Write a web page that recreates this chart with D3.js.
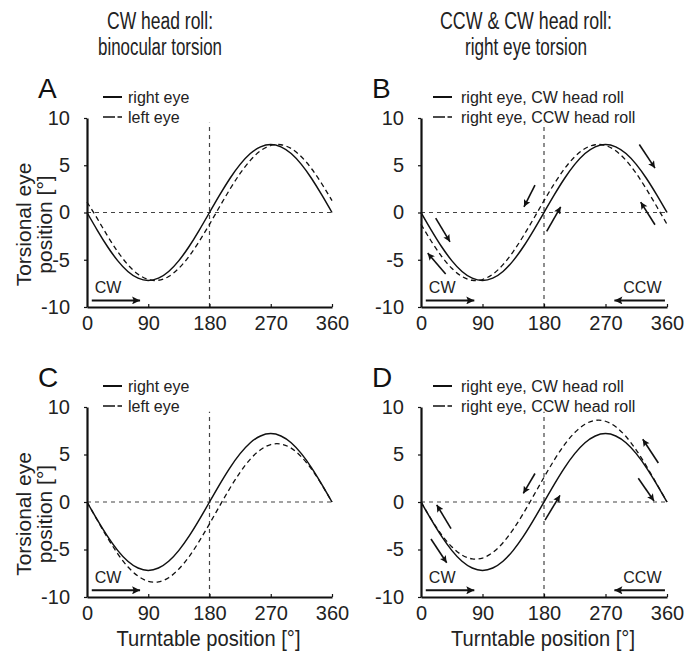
<!DOCTYPE html>
<html>
<head>
<meta charset="utf-8">
<script src="https://cdn.jsdelivr.net/npm/d3@7"></script>
<style>
  html, body { margin: 0; padding: 0; background: #fff; }
  svg { display: block; font-family: "Liberation Sans", Arial, sans-serif; }
</style>
</head>
<body>
<svg id="chart" width="695" height="658"></svg>
<script>
// ---------- data ----------
const turntable = [0,15,30,45,60,75,90,105,120,135,150,165,180,195,210,225,240,255,270,285,300,315,330,345,360];
const xTicks = [0, 90, 180, 270, 360];
const yTicks = [-10, -5, 0, 5, 10];

// Panel A: CW head roll, binocular
const aRightEye = [0,-1.86,-3.6,-5.09,-6.24,-6.95,-7.2,-6.95,-6.24,-5.09,-3.6,-1.86,0,1.86,3.6,5.09,6.24,6.95,7.2,6.95,6.24,5.09,3.6,1.86,0];
const aLeftEye  = [1.1,-0.63,-2.46,-4.13,-5.52,-6.53,-7.09,-7.17,-6.77,-5.9,-4.63,-3.04,-1.25,0.63,2.46,4.13,5.52,6.53,7.09,7.17,6.77,5.9,4.63,3.04,1.25];
// Panel B: right eye, CW vs CCW head roll
const bRightCW  = [0,-1.86,-3.6,-5.09,-6.24,-6.95,-7.2,-6.95,-6.24,-5.09,-3.6,-1.86,0,1.86,3.6,5.09,6.24,6.95,7.2,6.95,6.24,5.09,3.6,1.86,0];
const bRightCCW = [-1.25,-3.04,-4.63,-5.9,-6.77,-7.17,-7.09,-6.53,-5.52,-4.13,-2.46,-0.63,1.25,3.04,4.63,5.9,6.77,7.17,7.09,6.53,5.52,4.13,2.46,0.63,-1.25];
// Panel C: binocular (second condition)
const cRightEye = [0,-1.86,-3.6,-5.09,-6.24,-6.95,-7.2,-6.95,-6.24,-5.09,-3.6,-1.86,0,1.86,3.6,5.09,6.24,6.95,7.2,6.95,6.24,5.09,3.6,1.86,0];
const cLeftEye  = [0,-1.9,-3.75,-5.43,-6.82,-7.8,-8.35,-8.4,-7.97,-7.05,-5.75,-4.12,-2.3,-0.4,1.45,3.13,4.52,5.5,6.05,6.1,5.67,4.75,3.45,1.82,0];
// Panel D: right eye, CW vs CCW head roll (second condition)
const dRightCW  = [0,-1.86,-3.6,-5.09,-6.24,-6.95,-7.2,-6.95,-6.24,-5.09,-3.6,-1.86,0,1.86,3.6,5.09,6.24,6.95,7.2,6.95,6.24,5.09,3.6,1.86,0];
const dRightCCW = [0,-1.82,-3.43,-4.71,-5.59,-5.99,-5.9,-5.31,-4.29,-2.87,-1.17,0.7,2.6,4.42,6.03,7.31,8.19,8.59,8.5,7.91,6.89,5.47,3.77,1.9,0];

// direction arrows along the curves (data coords: [x1,y1,x2,y2], head at x2,y2)
const bArrows = [[21.5,-0.6,42.4,-3.1],[36.1,-6.5,9.8,-4.3],[166.8,2.9,150.7,0.6],[183.9,-2.0,204.4,0.6],[342.4,-1.3,321.5,1.1],[319.5,7.2,342.4,4.7]];
const dArrows = [[43.9,-2.8,23.0,-0.3],[14.6,-3.9,37.6,-6.4],[166.8,3.0,149.7,0.9],[181.5,-1.9,203.4,0.7],[347.3,4.1,324.5,6.6],[318.0,2.5,341.0,0.1]];

const legendAC = ["right eye", "left eye"];
const legendBD = ["right eye, CW head roll", "right eye, CCW head roll"];

// ---------- layout ----------
const svg = d3.select("#chart");
const defs = svg.append("defs");
defs.append("marker").attr("id","headSmall").attr("markerUnits","userSpaceOnUse")
  .attr("viewBox","0 0 10 10").attr("refX",10).attr("refY",5)
  .attr("markerWidth",9).attr("markerHeight",7).attr("orient","auto")
  .append("path").attr("d","M0,0 L10,5 L0,10 L2,5 Z").attr("fill","#111");
defs.append("marker").attr("id","headBig").attr("markerUnits","userSpaceOnUse")
  .attr("viewBox","0 0 10 10").attr("refX",10).attr("refY",5)
  .attr("markerWidth",12).attr("markerHeight",8).attr("orient","auto")
  .append("path").attr("d","M0,0 L10,5 L0,10 L2,5 Z").attr("fill","#111");

const panels = [
  {letter:"A", left:87,  right:332, top:118, bottom:307, s1:aRightEye, s2:aLeftEye,  legend:legendAC, ylab:true,  xlab:false, ccw:false, arrows:[]},
  {letter:"B", left:421, right:667, top:118, bottom:307, s1:bRightCW,  s2:bRightCCW, legend:legendBD, ylab:false, xlab:false, ccw:true,  arrows:bArrows},
  {letter:"C", left:87,  right:332, top:407, bottom:597, s1:cRightEye, s2:cLeftEye,  legend:legendAC, ylab:true,  xlab:true,  ccw:false, arrows:[]},
  {letter:"D", left:421, right:667, top:407, bottom:597, s1:dRightCW,  s2:dRightCCW, legend:legendBD, ylab:false, xlab:true,  ccw:true,  arrows:dArrows}
];

// column titles
const titles = [
  {cx:160, lines:["CW head roll:", "binocular torsion"], widths:[106,124]},
  {cx:526, lines:["CCW & CW head roll:", "right eye torsion"], widths:[172,122]}
];
titles.forEach(t => {
  t.lines.forEach((ln,i) => {
    svg.append("text").attr("x",t.cx).attr("y",29 + i*26)
      .attr("text-anchor","middle").attr("font-size",23).attr("fill","#222")
      .attr("textLength",t.widths[i]).attr("lengthAdjust","spacingAndGlyphs")
      .text(ln);
  });
});

panels.forEach(p => {
  const x = d3.scaleLinear().domain([0,360]).range([p.left,p.right]);
  const y = d3.scaleLinear().domain([-10,10]).range([p.bottom,p.top]);
  const g = svg.append("g");

  // reference dotted lines
  g.append("line").attr("x1",x(0)).attr("x2",x(360)).attr("y1",y(0)).attr("y2",y(0))
    .attr("stroke","#444").attr("stroke-width",1.2).attr("stroke-dasharray","4,4");
  g.append("line").attr("x1",x(180)).attr("x2",x(180)).attr("y1",y(-10)).attr("y2",y(9.5))
    .attr("stroke","#444").attr("stroke-width",1.2).attr("stroke-dasharray","4,4");

  // curves
  const line = d3.line().x((d,i)=>x(turntable[i])).y(d=>y(d)).curve(d3.curveNatural);
  g.append("path").datum(p.s2).attr("d",line).attr("fill","none")
    .attr("stroke","#111").attr("stroke-width",1.3).attr("stroke-dasharray","5,3.5");
  g.append("path").datum(p.s1).attr("d",line).attr("fill","none")
    .attr("stroke","#111").attr("stroke-width",1.5);

  // axes
  const xAxis = d3.axisBottom(x).tickValues(xTicks).tickSizeInner(-3).tickSizeOuter(0).tickPadding(9);
  const yAxis = d3.axisLeft(y).tickValues(yTicks).tickSizeInner(3).tickSizeOuter(0).tickPadding(14)
     .tickFormat(d3.format("d"));
  const gx = g.append("g").attr("transform",`translate(0,${p.bottom})`).call(xAxis);
  const gy = g.append("g").attr("transform",`translate(${p.left},0)`).call(yAxis);
  [gx,gy].forEach(ax => {
    ax.select(".domain").attr("stroke","#111").attr("stroke-width",2.2);
    ax.selectAll(".tick line").attr("stroke","#111").attr("stroke-width",1.2);
    ax.selectAll(".tick text").attr("font-size",20).attr("fill","#222")
      .attr("font-family","'Liberation Sans', Arial, sans-serif");
  });
  gx.selectAll(".tick").filter(d=>d===0).select("line").remove();
  gy.selectAll(".tick text").text(d => d < 0 ? "-" + Math.abs(d) : d);

  // panel letter
  svg.append("text").attr("x",p.left-49).attr("y",p.top-20).attr("font-size",28).attr("fill","#111").text(p.letter);

  // legend
  const lx = p.ylab ? p.left+16 : p.left+12;
  const tx = p.ylab ? p.left+41 : p.left+40;
  p.legend.forEach((lab,i) => {
    const ly = p.top - 21 + i*20;
    g.append("line").attr("x1",lx).attr("x2",lx+19).attr("y1",ly).attr("y2",ly)
      .attr("stroke","#111").attr("stroke-width",i===0?2:1.3)
      .attr("stroke-dasharray", i===0 ? null : "12,2.5");
    g.append("text").attr("x",tx).attr("y",ly+5.5).attr("font-size",16).attr("fill","#222").text(lab);
  });

  // CW / CCW arrows along the bottom
  g.append("line").attr("x1",x(7)).attr("x2",x(78)).attr("y1",y(-9.3)).attr("y2",y(-9.3))
    .attr("stroke","#111").attr("stroke-width",2).attr("marker-end","url(#headBig)");
  g.append("text").attr("x",x(31)).attr("y",y(-8.5)).attr("text-anchor","middle")
    .attr("font-size",16).attr("fill","#222").text("CW");
  if (p.ccw) {
    g.append("line").attr("x1",x(357)).attr("x2",x(283)).attr("y1",y(-9.3)).attr("y2",y(-9.3))
      .attr("stroke","#111").attr("stroke-width",2).attr("marker-end","url(#headBig)");
    g.append("text").attr("x",x(324)).attr("y",y(-8.5)).attr("text-anchor","middle")
      .attr("font-size",16).attr("fill","#222").text("CCW");
  }

  // direction arrows
  p.arrows.forEach(a => {
    g.append("line").attr("x1",x(a[0])).attr("y1",y(a[1])).attr("x2",x(a[2])).attr("y2",y(a[3]))
      .attr("stroke","#111").attr("stroke-width",1.6).attr("marker-end","url(#headSmall)");
  });

  // axis labels
  if (p.ylab) {
    const cy = (p.top+p.bottom)/2 + 12;
    ["Torsional eye","position [°]"].forEach((t,i) => {
      svg.append("text").attr("transform",`translate(${31+i*21},${cy}) rotate(-90)`)
        .attr("text-anchor","middle").attr("font-size",21).attr("fill","#222").text(t);
    });
  }
  if (p.xlab) {
    svg.append("text").attr("x",(p.left+p.right)/2-1).attr("y",646)
      .attr("text-anchor","middle").attr("font-size",22).attr("fill","#222")
      .attr("textLength",184).attr("lengthAdjust","spacingAndGlyphs")
      .text("Turntable position [°]");
  }
});
</script>
</body>
</html>
